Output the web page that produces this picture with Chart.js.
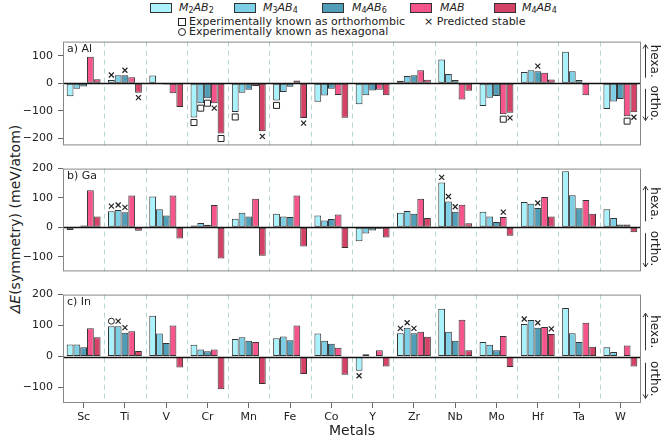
<!DOCTYPE html>
<html>
<head>
<meta charset="utf-8">
<script src="https://cdn.jsdelivr.net/npm/chart.js@4.4.0/dist/chart.umd.min.js"></script>
<style>
body{margin:0;background:#fff;font-family:'DejaVu Sans',sans-serif;}
#wrap{position:relative;width:662px;height:440px;overflow:hidden;}
canvas{position:absolute;left:0;}
.lab{position:absolute;font-size:11px;color:#222;white-space:nowrap;line-height:12px;}
.lab i{font-style:italic;}
.lab sub{font-size:8px;vertical-align:-2px;line-height:0;}
.sw{position:absolute;width:20px;height:8px;border:1px solid #333;}
.sq{position:absolute;width:6px;height:6px;border:1px solid #222;}
.ci{position:absolute;width:6px;height:6px;border:1px solid #222;border-radius:50%;}
#ytitle{position:absolute;left:15px;top:219px;font-size:14px;color:#222;white-space:nowrap;transform:translate(-50%,-50%) rotate(-90deg);}
</style>
</head>
<body>
<div id="wrap">
  <div class="sw" style="left:150px;top:3px;background:#a9f1fb"></div><div class="lab" style="left:179px;top:2px"><i>M</i><sub>2</sub><i>AB</i><sub>2</sub></div>
  <div class="sw" style="left:234px;top:3px;background:#7dcfe6"></div><div class="lab" style="left:263px;top:2px"><i>M</i><sub>3</sub><i>AB</i><sub>4</sub></div>
  <div class="sw" style="left:322px;top:3px;background:#4f9db6"></div><div class="lab" style="left:352px;top:2px"><i>M</i><sub>4</sub><i>AB</i><sub>6</sub></div>
  <div class="sw" style="left:410px;top:3px;background:#f6558b"></div><div class="lab" style="left:440px;top:2px"><i>MAB</i></div>
  <div class="sw" style="left:494px;top:3px;background:#d54267"></div><div class="lab" style="left:522px;top:2px"><i>M</i><sub>4</sub><i>AB</i><sub>4</sub></div>
  <div class="sq" style="left:178px;top:18px"></div><div class="lab" style="left:189px;top:16px">Experimentally known as orthorhombic</div>
  <div class="lab" style="left:424px;top:16px">× Predicted stable</div>
  <div class="ci" style="left:178px;top:28px"></div><div class="lab" style="left:189px;top:26px">Experimentally known as hexagonal</div>
  <div id="ytitle"><i>ΔE</i>(symmetry) (meV/atom)</div>
  <canvas id="ca" width="662" height="127" style="top:30px"></canvas>
  <canvas id="cb" width="662" height="126" style="top:157px"></canvas>
  <canvas id="cc" width="662" height="157" style="top:283px"></canvas>
</div>
<script>
const metals = ['Sc','Ti','V','Cr','Mn','Fe','Co','Y','Zr','Nb','Mo','Hf','Ta','W'];
const seriesNames = ['M2AB2','M3AB4','M4AB6','MAB','M4AB4'];
const colors = ['#a9f1fb','#7dcfe6','#4f9db6','#f6558b','#d54267'];

// a) Al
const alM2AB2 = [-47, 12, 28, -124, -104, -62, -67, -76, 9, 86, -82, 41, 114, -93];
const alM3AB4 = [-20, 29, 0, -72, -34, -32, -44, -43, 26, 34, -52, 47, 44, -66];
const alM4AB6 = [-12, 29, -4, -54, -23, -13, -20, -26, 29, 12, -46, 44, 12, -57];
const alMAB   = [96, 22, -36, -72, -10, 10, -42, -23, 47, -59, -112, 38, -43, -119];
const alM4AB4 = [15, -34, -86, -182, -174, -126, -125, -43, 13, -27, -107, 14, 0, -105];
// b) Ga
const gaM2AB2 = [-9, 55, 105, 6, 29, 46, 40, -47, 50, 153, 53, 86, 191, 62];
const gaM3AB4 = [3, 59, 62, 15, 50, 37, 23, -21, 56, 88, 37, 80, 109, 32];
const gaM4AB6 = [6, 51, 40, 9, 37, 35, 28, -11, 46, 53, 18, 66, 65, 10];
const gaMAB   = [126, 108, 108, 76, 97, 108, 44, -5, 97, 77, 35, 103, 93, 10];
const gaM4AB4 = [37, -12, -38, -106, -97, -65, -70, -35, 32, 14, -29, 37, 46, -17];
// c) In
const inM2AB2 = [39, 98, 132, 38, 57, 59, 74, -46, 75, 154, 47, 105, 157, 30];
const inM3AB4 = [39, 98, 74, 23, 62, 65, 51, 7, 93, 80, 38, 118, 75, 15];
const inM4AB6 = [30, 77, 44, 17, 51, 53, 41, 2, 75, 51, 20, 93, 47, 2];
const inMAB   = [91, 82, 100, 23, 47, 100, 28, 20, 80, 119, 66, 95, 109, 36];
const inM4AB4 = [62, 18, -35, -106, -89, -56, -59, -32, 64, 20, -34, 73, 32, -32];

// markers: [metal index, series index, kind]  x = predicted stable, s = ortho known, o = hexa known
const alMarkers = [[1,0,'x'],[1,2,'x'],[1,4,'x'],[3,0,'s'],[3,1,'s'],[3,2,'s'],[3,3,'x'],[3,4,'s'],
  [4,0,'s'],[4,4,'x'],[5,0,'s'],[5,4,'x'],[10,3,'s'],[10,4,'x'],[11,2,'x'],[13,3,'s'],[13,4,'x']];
const gaMarkers = [[1,0,'x'],[1,1,'x'],[1,2,'x'],[9,0,'x'],[9,1,'x'],[9,2,'x'],[10,3,'x'],[11,2,'x']];
const inMarkers = [[1,0,'o'],[1,1,'x'],[1,2,'x'],[7,0,'x'],[8,0,'x'],[8,1,'x'],[8,2,'x'],[11,0,'x'],[11,2,'x'],[11,4,'x']];

const alTicks = [-200, -100, 0, 100];
const gaTicks = [-100, 0, 100, 200];
const inTicks = [-100, 0, 100, 200];

const panelPlugin = {
  id: 'panel',
  beforeDatasetsDraw(chart) {
    const {ctx, chartArea: a, scales: {x}} = chart;
    ctx.save();
    ctx.strokeStyle = '#b5d6d2';
    ctx.lineWidth = 1;
    ctx.setLineDash([5, 4]);
    for (let i = 1; i < metals.length; i++) {
      const px = Math.round((x.getPixelForValue(i - 1) + x.getPixelForValue(i)) / 2) + 0.5;
      ctx.beginPath(); ctx.moveTo(px, a.top); ctx.lineTo(px, a.bottom); ctx.stroke();
    }
    ctx.restore();
  },
  afterDatasetsDraw(chart) {
    const {ctx, chartArea: a, scales: {y}} = chart;
    const o = chart.options.plugins.panel;
    ctx.save();
    // zero line
    const y0 = Math.round(y.getPixelForValue(0)) + 0.5;
    ctx.strokeStyle = '#111'; ctx.lineWidth = 1.4;
    ctx.beginPath(); ctx.moveTo(a.left, y0); ctx.lineTo(a.right, y0); ctx.stroke();
    // frame
    ctx.strokeStyle = '#888'; ctx.lineWidth = 1;
    ctx.strokeRect(a.left + 0.5, a.top + 0.5, a.right - a.left - 1, a.bottom - a.top - 1);
    // markers
    ctx.strokeStyle = '#222'; ctx.lineWidth = 1.2;
    o.markers.forEach(([mi, si, kind]) => {
      const bar = chart.getDatasetMeta(si).data[mi];
      const v = chart.data.datasets[si].data[mi];
      const mx = bar.x, my = v >= 0 ? bar.y - 5 : bar.y + 5;
      ctx.beginPath();
      if (kind === 'x') {
        ctx.moveTo(mx - 2.5, my - 2.5); ctx.lineTo(mx + 2.5, my + 2.5);
        ctx.moveTo(mx + 2.5, my - 2.5); ctx.lineTo(mx - 2.5, my + 2.5);
        ctx.stroke();
      } else if (kind === 's') {
        ctx.lineWidth = 1;
        ctx.fillStyle = '#fff';
        ctx.rect(mx - 3, my - 3, 6, 6); ctx.fill(); ctx.stroke();
        ctx.lineWidth = 1.2;
      } else {
        ctx.lineWidth = 1;
        ctx.arc(mx, my, 3, 0, Math.PI * 2); ctx.stroke();
        ctx.lineWidth = 1.2;
      }
    });
    // panel label
    ctx.fillStyle = '#222';
    ctx.font = '11px "DejaVu Sans"';
    ctx.textBaseline = 'middle';
    ctx.fillText(o.label, a.left + 4, a.top + 8);
    // hexa / ortho arrows
    const ax = a.right + 4.5;
    ctx.strokeStyle = '#333'; ctx.lineWidth = 1;
    const arrow = (v1, v2) => {
      const p1 = y.getPixelForValue(v1), p2 = y.getPixelForValue(v2);
      const d = p2 < p1 ? 1 : -1;
      ctx.beginPath();
      ctx.moveTo(ax, p1); ctx.lineTo(ax, p2);
      ctx.moveTo(ax - 2.5, p2 + d * 4); ctx.lineTo(ax, p2); ctx.lineTo(ax + 2.5, p2 + d * 4);
      ctx.stroke();
    };
    arrow(20, 140);
    arrow(-20, -135);
    ctx.font = '12px "DejaVu Sans"';
    ctx.textAlign = 'center';
    [['hexa.', 80], ['ortho.', -72]].forEach(([t, v]) => {
      ctx.save();
      ctx.translate(a.right + 13, y.getPixelForValue(v));
      ctx.rotate(Math.PI / 2);
      ctx.fillText(t, 0, 0);
      ctx.restore();
    });
    ctx.restore();
  }
};

function makePanel(id, label, series, markers, ymin, ymax, yTicks, bottom) {
  return new Chart(document.getElementById(id), {
    type: 'bar',
    data: {
      labels: metals,
      datasets: series.map((d, i) => ({
        label: seriesNames[i],
        data: d,
        backgroundColor: colors[i],
        borderColor: '#333',
        borderWidth: 1,
        borderSkipped: false,
        categoryPercentage: 0.82,
        barPercentage: 1.0
      }))
    },
    options: {
      responsive: false,
      animation: false,
      devicePixelRatio: 1,
      layout: {padding: {left: 0, right: 21, top: 6, bottom: bottom ? 0 : 6}},
      plugins: {
        legend: {display: false},
        tooltip: {enabled: false},
        panel: {label: label, markers: markers}
      },
      scales: {
        x: {
          type: 'category',
          grid: {display: bottom, drawOnChartArea: false, drawTicks: true, tickLength: 5, color: '#666', offset: false},
          border: {display: false},
          ticks: {display: bottom, color: '#222', font: {family: 'DejaVu Sans', size: 11}, padding: 3, maxRotation: 0},
          title: {display: bottom, text: 'Metals', color: '#222', font: {family: 'DejaVu Sans', size: 14}, padding: {top: 0, bottom: 0}},
          afterFit: s => { s.height = bottom ? 37 : 0; }
        },
        y: {
          min: ymin, max: ymax,
          afterBuildTicks: s => { s.ticks = yTicks.map(v => ({value: v})); },
          afterFit: s => { s.width = 63; },
          grid: {drawOnChartArea: false, drawTicks: true, tickLength: 5, color: '#666'},
          border: {display: false},
          ticks: {color: '#222', font: {family: 'DejaVu Sans', size: 11}, padding: 5,
            callback: v => (v < 0 ? '\u2212' + Math.abs(v) : '' + v)}
        }
      }
    },
    plugins: [panelPlugin]
  });
}

makePanel('ca', 'a) Al', [alM2AB2, alM3AB4, alM4AB6, alMAB, alM4AB4], alMarkers, -225, 151, alTicks, false);
makePanel('cb', 'b) Ga', [gaM2AB2, gaM3AB4, gaM4AB6, gaMAB, gaM4AB4], gaMarkers, -150, 200, gaTicks, false);
makePanel('cc', 'c) In', [inM2AB2, inM3AB4, inM4AB6, inMAB, inM4AB4], inMarkers, -150, 200, inTicks, true);
</script>
</body>
</html>
